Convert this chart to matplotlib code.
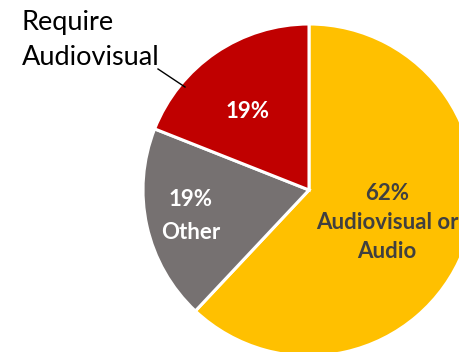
import matplotlib
matplotlib.use("Agg")
import matplotlib.pyplot as plt

# Share of respondents by requirement type
categories = ["Audiovisual or Audio", "Other", "Require Audiovisual"]
shares = [62, 19, 19]
colors = ["#FFC000", "#767171", "#C00000"]

plt.rcParams["font.family"] = ["Lato", "DejaVu Sans"]

W, H = 459, 352
fig = plt.figure(figsize=(W / 100, H / 100), dpi=100)
ax = fig.add_axes([0, 0, 1, 1])

cx, cy, r = 309, H - 190, 166
ax.pie(shares, colors=colors, startangle=90, counterclock=False,
       center=(cx, cy), radius=r,
       wedgeprops=dict(edgecolor="white", linewidth=2.2))
ax.set_xlim(0, W)
ax.set_ylim(0, H)
ax.set_aspect("equal")
ax.axis("off")


def label_lines(x, baselines, lines, color):
    for yb, s in zip(baselines, lines):
        ax.text(x, H - yb, s, ha="center", va="baseline", fontsize=16,
                fontweight="bold", color=color)


label_lines(387, [200, 229, 258], [f"{shares[0]}%", "Audiovisual or", "Audio"], "#404040")
label_lines(191, [206, 239], [f"{shares[1]}%", categories[1]], "white")
label_lines(248, [118], [f"{shares[2]}%"], "white")

for yb, s in zip([30, 65], ["Require", "Audiovisual"]):
    ax.text(22, H - yb, s, ha="left", va="baseline", fontsize=19.5, color="black")
ax.plot([158, 185], [H - 69, H - 87], color="black", lw=1)

fig.savefig("out.png", dpi=100)
